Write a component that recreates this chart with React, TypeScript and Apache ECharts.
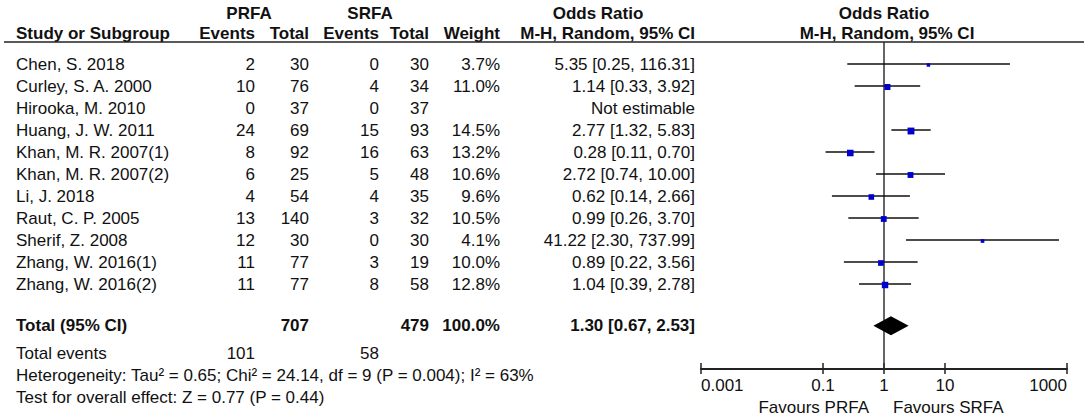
import React, { useEffect, useRef } from "react";
import * as echarts from "echarts";

// ---------- data ----------
const studies = [
  "Chen, S. 2018",
  "Curley, S. A. 2000",
  "Hirooka, M. 2010",
  "Huang, J. W. 2011",
  "Khan, M. R. 2007(1)",
  "Khan, M. R. 2007(2)",
  "Li, J. 2018",
  "Raut, C. P. 2005",
  "Sherif, Z. 2008",
  "Zhang, W. 2016(1)",
  "Zhang, W. 2016(2)",
];
const prfaEvents = [2, 10, 0, 24, 8, 6, 4, 13, 12, 11, 11];
const prfaTotal = [30, 76, 37, 69, 92, 25, 54, 140, 30, 77, 77];
const srfaEvents = [0, 4, 0, 15, 16, 5, 4, 3, 0, 3, 8];
const srfaTotal = [30, 34, 37, 93, 63, 48, 35, 32, 30, 19, 58];
const weights: (number | null)[] = [3.7, 11.0, null, 14.5, 13.2, 10.6, 9.6, 10.5, 4.1, 10.0, 12.8];
const oddsRatio: (number | null)[] = [5.35, 1.14, null, 2.77, 0.28, 2.72, 0.62, 0.99, 41.22, 0.89, 1.04];
const ciLow: (number | null)[] = [0.25, 0.33, null, 1.32, 0.11, 0.74, 0.14, 0.26, 2.3, 0.22, 0.39];
const ciHigh: (number | null)[] = [116.31, 3.92, null, 5.83, 0.7, 10.0, 2.66, 3.7, 737.99, 3.56, 2.78];

const pooledOR = [1.3];
const pooledLow = [0.67];
const pooledHigh = [2.53];
const totalPRFA = 707;
const totalSRFA = 479;
const totalWeight = "100.0%";
const eventsPRFA = 101;
const eventsSRFA = 58;
const heterogeneityText = "Heterogeneity: Tau² = 0.65; Chi² = 24.14, df = 9 (P = 0.004); I² = 63%";
const overallText = "Test for overall effect: Z = 0.77 (P = 0.44)";

const tickValues = [0.001, 0.1, 1, 10, 1000];
const tickLabels = ["0.001", "0.1", "1", "10", "1000"];

// ---------- layout ----------
const W = 1084;
const H = 418;
const ROW0 = 64;
const ROWH = 22;
const GRID_TOP = 42;
const AXIS_Y = 369;
const PLOT_L = 701;
const PLOT_R = 1067;
const TOTAL_ROW = 11.9;
const EVENTS_ROW = 13.15;
const FONT = "'Liberation Sans', Arial, Helvetica, sans-serif";
const FS = 17;
const INK = "#111";

// column anchors (right edges unless noted)
const C_NAME = 16;
const C_PE = 255;
const C_PT = 309;
const C_SE = 379;
const C_ST = 429;
const C_W = 500;
const C_CI = 695;

const rowY = (r: number) => ROW0 + ROWH * r;
const yMin = (GRID_TOP - ROW0) / ROWH;
const yMax = (AXIS_Y - ROW0) / ROWH;

const fmt2 = (v: number) => v.toFixed(2);

function txt(text: string, x: number, y: number, align: string, bold = false, size = FS) {
  return {
    type: "text",
    x,
    y,
    silent: true,
    style: {
      text,
      fill: INK,
      fontFamily: FONT,
      fontSize: size,
      fontWeight: bold ? "bold" : "normal",
      align,
      verticalAlign: "middle",
    },
  };
}

export default function App() {
  const ref = useRef<HTMLDivElement>(null);

  useEffect(() => {
    document.body.style.margin = "0";
    if (!ref.current) return;
    const chart = echarts.init(ref.current, null, { renderer: "svg" });

    const graphics: any[] = [];
    // headers
    graphics.push(txt("PRFA", 249, 13, "center", true));
    graphics.push(txt("SRFA", 370, 13, "center", true));
    graphics.push(txt("Odds Ratio", 598, 13, "center", true));
    graphics.push(txt("Odds Ratio", 884, 13, "center", true));
    const hy = 33;
    graphics.push(txt("Study or Subgroup", C_NAME, hy, "left", true));
    graphics.push(txt("Events", C_PE, hy, "right", true));
    graphics.push(txt("Total", C_PT, hy, "right", true));
    graphics.push(txt("Events", C_SE, hy, "right", true));
    graphics.push(txt("Total", C_ST, hy, "right", true));
    graphics.push(txt("Weight", C_W, hy, "right", true));
    graphics.push(txt("M-H, Random, 95% CI", C_CI, hy, "right", true));
    graphics.push(txt("M-H, Random, 95% CI", 887, hy, "center", true));
    graphics.push({
      type: "line",
      silent: true,
      shape: { x1: 4, y1: 42, x2: W, y2: 42 },
      style: { stroke: "#222", lineWidth: 1.5 },
    });

    studies.forEach((s, i) => {
      const y = rowY(i);
      graphics.push(txt(s, C_NAME, y, "left"));
      graphics.push(txt(String(prfaEvents[i]), C_PE, y, "right"));
      graphics.push(txt(String(prfaTotal[i]), C_PT, y, "right"));
      graphics.push(txt(String(srfaEvents[i]), C_SE, y, "right"));
      graphics.push(txt(String(srfaTotal[i]), C_ST, y, "right"));
      const w = weights[i];
      if (w != null) graphics.push(txt(w.toFixed(1) + "%", C_W, y, "right"));
      const o = oddsRatio[i];
      const l = ciLow[i];
      const h = ciHigh[i];
      const ciText = o == null || l == null || h == null ? "Not estimable" : `${fmt2(o)} [${fmt2(l)}, ${fmt2(h)}]`;
      graphics.push(txt(ciText, C_CI, y, "right"));
    });

    const ty = rowY(TOTAL_ROW);
    graphics.push(txt("Total (95% CI)", C_NAME, ty, "left", true));
    graphics.push(txt(String(totalPRFA), C_PT, ty, "right", true));
    graphics.push(txt(String(totalSRFA), C_ST, ty, "right", true));
    graphics.push(txt(totalWeight, C_W, ty, "right", true));
    graphics.push(
      txt(`${fmt2(pooledOR[0])} [${fmt2(pooledLow[0])}, ${fmt2(pooledHigh[0])}]`, C_CI, ty, "right", true)
    );
    const ey = rowY(EVENTS_ROW);
    graphics.push(txt("Total events", C_NAME, ey, "left"));
    graphics.push(txt(String(eventsPRFA), C_PE, ey, "right"));
    graphics.push(txt(String(eventsSRFA), C_SE, ey, "right"));
    graphics.push(txt(heterogeneityText, C_NAME, rowY(EVENTS_ROW + 1), "left"));
    graphics.push(txt(overallText, C_NAME, rowY(EVENTS_ROW + 2), "left"));
    graphics.push(txt("Favours PRFA", 869, 407, "right"));
    graphics.push(txt("Favours SRFA", 893, 407, "left"));

    const studyData: number[][] = [];
    studies.forEach((_, i) => {
      const o = oddsRatio[i];
      const l = ciLow[i];
      const h = ciHigh[i];
      const w = weights[i];
      if (o == null || l == null || h == null || w == null) return;
      studyData.push([Math.log10(o), i, Math.log10(l), Math.log10(h), w]);
    });
    const pooledData = pooledOR.map((o, k) => [
      Math.log10(o),
      TOTAL_ROW,
      Math.log10(pooledLow[k]),
      Math.log10(pooledHigh[k]),
    ]);

    const logTicks = tickValues.map((v) => Math.log10(v));
    const labelFor = (v: number) => {
      let best = 0;
      logTicks.forEach((t, k) => {
        if (Math.abs(t - v) < Math.abs(logTicks[best] - v)) best = k;
      });
      return tickLabels[best];
    };

    const xBase = {
      type: "value",
      gridIndex: 0,
      position: "bottom",
      min: Math.log10(tickValues[0]),
      max: Math.log10(tickValues[tickValues.length - 1]),
      splitLine: { show: false },
    };

    chart.setOption({
      animation: false,
      grid: {
        left: PLOT_L,
        right: W - PLOT_R,
        top: GRID_TOP,
        bottom: H - AXIS_Y,
        containLabel: false,
      },
      xAxis: [
        {
          ...xBase,
          axisLine: { show: true, onZero: false, lineStyle: { color: "#222", width: 1.8 } },
          axisTick: {
            show: true,
            customValues: logTicks,
            length: 5,
            lineStyle: { color: "#222", width: 1.5 },
          },
          axisLabel: {
            show: true,
            customValues: logTicks,
            formatter: (v: number) => labelFor(v),
            color: INK,
            fontFamily: FONT,
            fontSize: FS,
            margin: 8,
            alignMinLabel: "left",
            alignMaxLabel: "right",
          },
        },
        {
          ...xBase,
          axisLine: { show: false, onZero: false },
          axisTick: {
            show: true,
            inside: true,
            customValues: logTicks,
            length: 6,
            lineStyle: { color: "#222", width: 1.5 },
          },
          axisLabel: { show: false },
        },
      ],
      yAxis: {
        type: "value",
        inverse: true,
        min: yMin,
        max: yMax,
        show: false,
      },
      graphic: graphics,
      series: [
        {
          type: "custom",
          name: "null line",
          z: 1,
          silent: true,
          data: [[0, yMin, yMax]],
          encode: { x: 0, y: 1 },
          renderItem: (params: any, api: any) => {
            const a = api.coord([api.value(0), api.value(1)]);
            const b = api.coord([api.value(0), api.value(2)]);
            return {
              type: "line",
              shape: { x1: a[0], y1: a[1], x2: b[0], y2: b[1] },
              style: { stroke: "#333", lineWidth: 1.5 },
            };
          },
        },
        {
          type: "custom",
          name: "studies",
          z: 2,
          silent: true,
          data: studyData,
          encode: { x: 0, y: 1 },
          renderItem: (params: any, api: any) => {
            const r = api.value(1);
            const p = api.coord([api.value(0), r]);
            const l = api.coord([api.value(2), r]);
            const h = api.coord([api.value(3), r]);
            const s = 1.8 * Math.sqrt(api.value(4));
            return {
              type: "group",
              children: [
                {
                  type: "line",
                  shape: { x1: l[0], y1: p[1], x2: h[0], y2: p[1] },
                  style: { stroke: "#111", lineWidth: 1.4 },
                },
                {
                  type: "rect",
                  shape: { x: p[0] - s / 2, y: p[1] - s / 2 + 1, width: s, height: s },
                  style: { fill: "#0000CC" },
                },
              ],
            };
          },
        },
        {
          type: "custom",
          name: "pooled",
          z: 3,
          silent: true,
          data: pooledData,
          encode: { x: 0, y: 1 },
          renderItem: (params: any, api: any) => {
            const r = api.value(1);
            const c = api.coord([api.value(0), r]);
            const l = api.coord([api.value(2), r]);
            const h = api.coord([api.value(3), r]);
            const half = 9.5;
            return {
              type: "polygon",
              shape: {
                points: [
                  [l[0], c[1]],
                  [c[0], c[1] - half],
                  [h[0], c[1]],
                  [c[0], c[1] + half],
                ],
              },
              style: { fill: "#000" },
            };
          },
        },
      ],
    });

    return () => chart.dispose();
  }, []);

  return <div ref={ref} style={{ width: W, height: H }} />;
}
